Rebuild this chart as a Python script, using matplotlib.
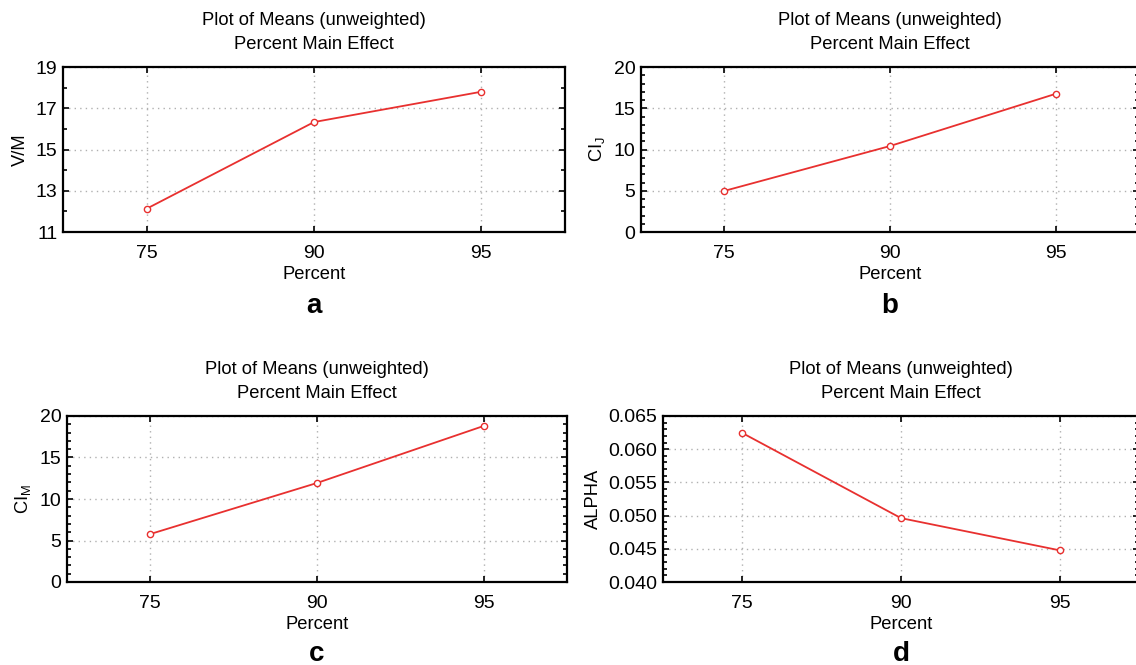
import numpy as np
import matplotlib
matplotlib.use("Agg")
import matplotlib.pyplot as plt
from matplotlib.ticker import MultipleLocator, FormatStrFormatter

plt.rcParams['font.family'] = ['Liberation Sans', 'DejaVu Sans']
plt.rcParams['mathtext.fontset'] = 'custom'
plt.rcParams['mathtext.rm'] = 'Liberation Sans'

# factor levels and the unweighted means of each response
percent = ["75", "90", "95"]
vm_means = [12.13, 16.33, 17.80]
cij_means = [4.97, 10.42, 16.76]
cim_means = [5.78, 11.93, 18.80]
alpha_means = [0.06244, 0.04962, 0.04477]

# y tick values per panel
vm_ticks = [11, 13, 15, 17, 19]
ci_ticks = [0, 5, 10, 15, 20]
alpha_ticks = [0.040, 0.045, 0.050, 0.055, 0.060, 0.065]

ylabels = ["V/M", r"CI$_\mathregular{J}$", r"CI$_\mathregular{M}$", "ALPHA"]
letters = ["a", "b", "c", "d"]

fig = plt.figure(figsize=(11.36, 6.65), dpi=100)

# axes boxes in figure pixels: left, top, right, bottom
W, H = 1136.0, 665.0
boxes = [(63, 67, 565, 232), (641, 67, 1139, 232),
         (67, 416, 567, 582), (663, 416, 1139, 582)]

panels = [
    (vm_means, vm_ticks, 1, "%d"),
    (cij_means, ci_ticks, 1, "%d"),
    (cim_means, ci_ticks, 1, "%d"),
    (alpha_means, alpha_ticks, 0.001, "%.3f"),
]

red = "#e8302f"
x = np.arange(len(percent))

for i, (vals, yt, minor, fmt) in enumerate(panels):
    l, t, r, b = boxes[i]
    ax = fig.add_axes([l / W, 1 - b / H, (r - l) / W, (b - t) / H])
    ax.plot(x, vals, color=red, lw=1.3, marker="o", ms=4.5,
            mfc="white", mec=red, mew=1.0, zorder=3)
    ax.set_xlim(-0.5, 2.5)
    ax.set_ylim(yt[0], yt[-1])
    ax.set_xticks(x)
    ax.set_xticklabels(percent)
    ax.set_yticks(yt)
    ax.yaxis.set_minor_locator(MultipleLocator(minor))
    ax.yaxis.set_major_formatter(FormatStrFormatter(fmt))
    ax.grid(True, which="major", color="#b0b0b0", ls=(0, (1, 3)), lw=1.0)
    ax.tick_params(which="both", direction="in", top=True, right=True,
                   labelsize=14, width=1.2)
    ax.tick_params(axis="x", pad=9)
    ax.tick_params(axis="y", pad=4)
    ax.tick_params(which="major", length=4)
    ax.tick_params(which="minor", length=3)
    for s in ax.spines.values():
        s.set_linewidth(1.6)
    ax.set_title("Plot of Means (unweighted)\nPercent Main Effect",
                 fontsize=13.2, linespacing=1.55, pad=13)
    ax.set_xlabel("Percent", fontsize=13.2, labelpad=3)
    ax.set_ylabel(ylabels[i], fontsize=13.2, labelpad=5)
    ly = 313 if i < 2 else 661
    fig.text((l + r) / 2 / W, 1 - ly / H, letters[i], fontsize=20,
             fontweight="bold", ha="center", va="baseline")

fig.savefig("out.png", dpi=100)
